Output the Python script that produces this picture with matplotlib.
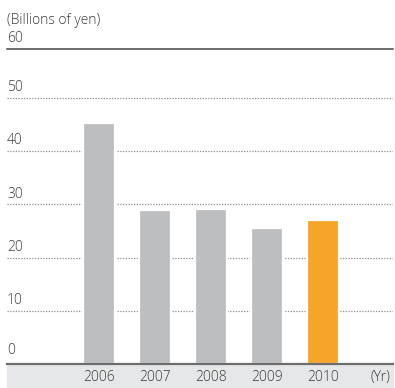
import matplotlib
matplotlib.use("Agg")
import matplotlib.pyplot as plt
from matplotlib.patches import Rectangle

years = ["2006", "2007", "2008", "2009", "2010"]
values = [45.3, 28.9, 29.2, 25.5, 27.0]
bar_colors = ["#bcbec0", "#bcbec0", "#bcbec0", "#bcbec0", "#f7a52a"]
yticks = [0, 10, 20, 30, 40, 50]
unit_label = "(Billions of yen)"
x_unit = "(Yr)"

plt.rcParams['font.family'] = ['Open Sans', 'DejaVu Sans']
plt.rcParams['font.weight'] = 'light'
FS = 10
TXT = "#3a3a3a"

W, H = 395, 388
fig = plt.figure(figsize=(W / 100, H / 100), dpi=100)

# gray band under the baseline, behind everything
fig.patches.append(Rectangle((7 / W, 0), 386 / W, (H - 365) / H,
                             transform=fig.transFigure, color="#e6e7e8",
                             zorder=-5))

ax = fig.add_axes([7 / W, (H - 364) / H, 386 / W, (364 - 49) / H])
ax.patch.set_visible(False)

x = list(range(len(years)))
ax.set_xlim(-1.64, 5.25)
ax.set_ylim(0, 59.2)

# dotted grid lines, drawn under the bars
for v in yticks[1:]:
    ax.axhline(v, color="#8c8c8c", lw=0.9, ls=(0, (1, 1.2)), zorder=1)
    ax.annotate(str(v), xy=(0, v), xycoords=("axes fraction", "data"),
                xytext=(0, 2), textcoords="offset points",
                ha="left", va="bottom", fontsize=FS, color=TXT)
ax.annotate("0", xy=(0, 0), xycoords=("axes fraction", "data"),
            xytext=(0, 4), textcoords="offset points",
            ha="left", va="bottom", fontsize=FS, color=TXT)
ax.annotate("60", xy=(0, 1), xycoords="axes fraction",
            xytext=(0, 2), textcoords="offset points",
            ha="left", va="bottom", fontsize=FS, color=TXT)

ax.bar(x, values, width=0.58, color=bar_colors, edgecolor="white",
       linewidth=1.6, zorder=2)

# top solid line and baseline
ax.axhline(59.2, color="#444444", lw=1.1, zorder=3, clip_on=False)
ax.axhline(0, color="#6d6d6d", lw=1.6, zorder=3, clip_on=False)

for s in ax.spines.values():
    s.set_visible(False)
ax.set_xticks([])
ax.set_yticks([])

for xi, yr in zip(x, years):
    ax.annotate(yr, xy=(xi, 0), xycoords="data", xytext=(0, -10),
                textcoords="offset points", ha="center", va="center",
                fontsize=FS, color=TXT, annotation_clip=False)
ax.annotate(x_unit, xy=(5.02, 0), xycoords="data", xytext=(0, -10),
            textcoords="offset points", ha="center", va="center",
            fontsize=FS, color=TXT, annotation_clip=False)

fig.text(7 / W, 1 - 20 / H, unit_label, ha="left", va="center",
         fontsize=FS, color=TXT)

fig.savefig("out.png", dpi=100)
